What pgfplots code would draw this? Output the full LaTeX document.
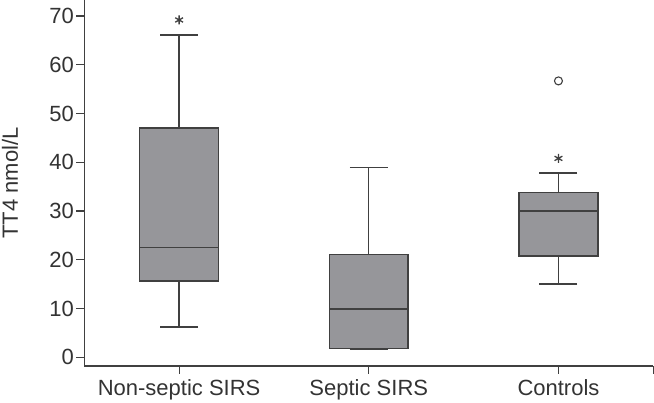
\documentclass[border=0pt]{standalone}
\usepackage{fontspec}
\setmainfont{Liberation Sans}
\usepackage{pgfplots}
\pgfplotsset{compat=1.18}
\usepgfplotslibrary{statistics}
\definecolor{boxfill}{HTML}{96969A}
\definecolor{edge}{HTML}{404040}
\definecolor{txt}{HTML}{333333}
\begin{document}
\begin{tikzpicture}
\begin{axis}[
  scale only axis,
  width=569pt, height=366pt,
  xmin=-0.5, xmax=2.5,
  ymin=-1.78, ymax=73.3,
  axis x line*=bottom, axis y line*=left,
  axis line style={edge, line width=1.2pt},
  every tick/.style={edge, line width=1.2pt},
  tick align=outside, major tick length=8pt,
  xtick={0,1,2}, xticklabels={Non-septic SIRS, Septic SIRS, Controls},
  extra x ticks={2.5}, extra x tick labels={},
  ytick={0,10,...,70},
  tick label style={font=\fontsize{22}{26}\selectfont, text=txt},
  /pgf/number format/assume math mode=true,
  xticklabel style={yshift=-2pt},
  yticklabel style={xshift=1pt},
  ylabel={TT4 nmol/L},
  ylabel style={at={(axis description cs:-0.1306,0.5)}, anchor=center, rotate=0, font=\fontsize{22}{26}\selectfont, text=txt},
  boxplot/draw direction=y,
  boxplot/box extend=0.415,
  boxplot/whisker extend=0.2,
  clip=false,
]
\addplot[boxplot prepared={draw position=0, lower whisker=6.2, lower quartile=15.65, median=22.5, upper quartile=47.0, upper whisker=66.1}, fill=boxfill, draw=edge, line width=1.4pt] coordinates {};
\addplot[boxplot prepared={draw position=1, lower whisker=1.6, lower quartile=1.85, median=9.9, upper quartile=21.1, upper whisker=38.9}, fill=boxfill, draw=edge, line width=1.4pt] coordinates {};
\addplot[boxplot prepared={draw position=2, lower whisker=15.0, lower quartile=20.8, median=30.0, upper quartile=33.8, upper whisker=37.8}, fill=boxfill, draw=edge, line width=1.4pt] coordinates {};
\addplot[only marks, mark=asterisk, mark size=4.5pt, draw=edge, line width=1.3pt] coordinates {(0,69.2) (2,40.8)};
\addplot[only marks, mark=o, mark size=4pt, draw=edge, line width=1.1pt] coordinates {(2,56.7)};
\end{axis}
\pgfresetboundingbox
\path[use as bounding box] (-84.3pt,-37pt) rectangle (569.7pt,366pt);
\end{tikzpicture}
\end{document}
